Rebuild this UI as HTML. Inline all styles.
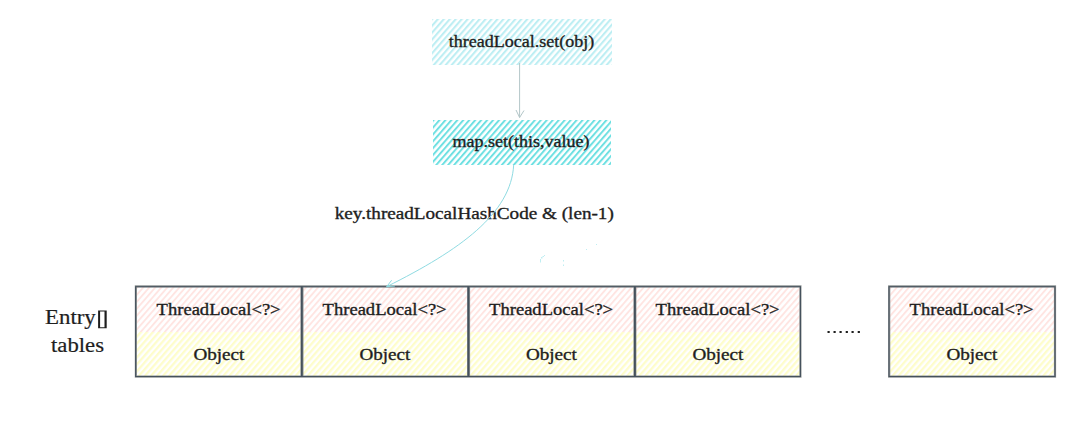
<!DOCTYPE html>
<html><head><meta charset="utf-8">
<style>
html,body{margin:0;padding:0;background:#fff;width:1080px;height:424px;overflow:hidden}
svg{display:block}
text{font-family:"Liberation Serif",serif;fill:#1e1e1e;stroke:#1e1e1e;stroke-width:0.35}
</style></head>
<body>
<svg width="1080" height="424" viewBox="0 0 1080 424">
<defs>
<pattern id="hc1" width="4.5" height="10" patternUnits="userSpaceOnUse" patternTransform="rotate(41)"><rect width="2.1" height="10" fill="#bdeef3"/></pattern>
<pattern id="hc2" width="4.5" height="10" patternUnits="userSpaceOnUse" patternTransform="rotate(41)"><rect width="2.0" height="10" fill="#6ee0e2"/></pattern>
<pattern id="hp" width="4.55" height="10" patternUnits="userSpaceOnUse" patternTransform="rotate(41)"><rect width="1.9" height="10" fill="#ffe5e2"/></pattern>
<pattern id="hy" width="4.55" height="10" patternUnits="userSpaceOnUse" patternTransform="rotate(41)"><rect width="2.3" height="10" fill="#fefdcb"/></pattern>
</defs>
<rect width="1080" height="424" fill="#fff"/>

<!-- top boxes -->
<rect x="432" y="19" width="180" height="46" fill="url(#hc1)"/>
<rect x="433" y="120" width="178" height="45" fill="url(#hc2)"/>
<text x="448.7" y="46.5" font-size="17" textLength="145.5" lengthAdjust="spacingAndGlyphs">threadLocal.set(obj)</text>
<text x="452.5" y="146.5" font-size="17" textLength="137" lengthAdjust="spacingAndGlyphs">map.set(this,value)</text>

<!-- straight arrow -->
<g stroke="#b3c6c8" stroke-width="1" fill="none">
<path d="M519.6 63 L519.6 117.5"/>
<path d="M516 110 L519.6 117.5 L524 110.5"/>
</g>


<text x="334.8" y="219" font-size="17" textLength="279" lengthAdjust="spacingAndGlyphs">key.threadLocalHashCode &amp; (len-1)</text>

<!-- entry boxes -->
<g>
<rect x="136" y="287" width="166" height="45" fill="url(#hp)"/>
<rect x="136" y="332" width="166" height="44" fill="url(#hy)"/>
<rect x="302" y="287" width="166.5" height="45" fill="url(#hp)"/>
<rect x="302" y="332" width="166.5" height="44" fill="url(#hy)"/>
<rect x="468.5" y="287" width="166.5" height="45" fill="url(#hp)"/>
<rect x="468.5" y="332" width="166.5" height="44" fill="url(#hy)"/>
<rect x="635" y="287" width="165.5" height="45" fill="url(#hp)"/>
<rect x="635" y="332" width="165.5" height="44" fill="url(#hy)"/>
<rect x="889" y="287" width="166" height="45" fill="url(#hp)"/>
<rect x="889" y="332" width="166" height="44" fill="url(#hy)"/>
</g>
<g stroke="#8a8f90" stroke-width="2.2" fill="none">
<rect x="135.9" y="286.4" width="664.5" height="90.2"/>
<path d="M302 286.4 V376.6 M468.6 286.4 V376.6 M634.9 286.4 V376.6" stroke-width="3"/>
<rect x="889.2" y="286.4" width="165.8" height="90.2"/>
</g>
<g stroke="#45515c" stroke-width="1.0" fill="none">
<rect x="135.6" y="286.7" width="664.9" height="89.8"/>
<path d="M301.8 286.4 V376.6 M468.4 286.4 V376.6 M634.9 286.4 V376.6" stroke-width="1.8"/>
<rect x="889" y="286.7" width="166" height="89.8"/>
</g>

<!-- curved arrow -->
<g stroke="#8fdbe2" stroke-width="1" fill="none">
<path d="M513.7 164.7 C511.2 213.6, 460.1 250, 386.6 286.7"/>
<path d="M391.6 280.3 L386.6 286.7 L394.9 286"/>
</g>
<g font-size="17">
<text x="156.6" y="314.8" textLength="124" lengthAdjust="spacingAndGlyphs">ThreadLocal&lt;?&gt;</text>
<text x="193.4" y="359.9" textLength="51" lengthAdjust="spacingAndGlyphs">Object</text>
<text x="322.6" y="314.8" textLength="124" lengthAdjust="spacingAndGlyphs">ThreadLocal&lt;?&gt;</text>
<text x="359.4" y="359.9" textLength="51" lengthAdjust="spacingAndGlyphs">Object</text>
<text x="489.1" y="314.8" textLength="124" lengthAdjust="spacingAndGlyphs">ThreadLocal&lt;?&gt;</text>
<text x="525.9" y="359.9" textLength="51" lengthAdjust="spacingAndGlyphs">Object</text>
<text x="655.6" y="314.8" textLength="124" lengthAdjust="spacingAndGlyphs">ThreadLocal&lt;?&gt;</text>
<text x="692.4" y="359.9" textLength="51" lengthAdjust="spacingAndGlyphs">Object</text>
<text x="909.6" y="314.8" textLength="124" lengthAdjust="spacingAndGlyphs">ThreadLocal&lt;?&gt;</text>
<text x="946.4" y="359.9" textLength="51" lengthAdjust="spacingAndGlyphs">Object</text>
</g>

<text x="45" y="324.3" font-size="20" style="stroke-width:0.2" textLength="50.8" lengthAdjust="spacingAndGlyphs">Entry</text>
<path d="M98.1 310.5 H106.7 V328.2 H98.1 Z M100.1 311.4 V327.3 H104.5 V311.4 Z" fill="#1e1e1e" fill-rule="evenodd"/>
<text x="51" y="352" font-size="20" style="stroke-width:0.2" textLength="53" lengthAdjust="spacingAndGlyphs">tables</text>

<!-- faint artifacts -->
<g fill="#bfeef2">
<rect x="540" y="259" width="1" height="3.5"/>
<rect x="541" y="257" width="1.5" height="1.5"/>
<rect x="542.5" y="256" width="1.5" height="1"/>
<rect x="544" y="255" width="1" height="1"/>
<rect x="563" y="260" width="1" height="1.5"/>
<rect x="563" y="264.5" width="1" height="1.5"/>
<rect x="586" y="249" width="1" height="1"/>
<rect x="596" y="244" width="1" height="1"/>
</g>
<!-- dots -->
<g fill="#1e1e1e">
<rect x="827.5" y="331" width="2.2" height="2"/>
<rect x="833.5" y="331" width="2.2" height="2"/>
<rect x="839.5" y="331" width="2.2" height="2"/>
<rect x="845.7" y="331" width="2.2" height="2"/>
<rect x="851.5" y="331" width="2.2" height="2"/>
<rect x="857.7" y="331" width="2.2" height="2"/>
</g>
</svg>
</body></html>
